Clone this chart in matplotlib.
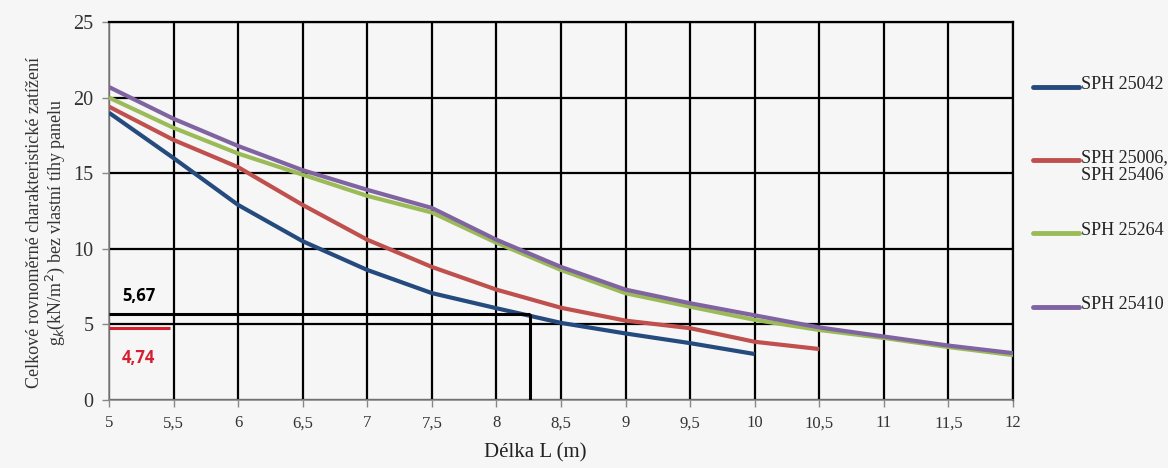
import matplotlib
matplotlib.use("Agg")
import matplotlib.pyplot as plt
from matplotlib.lines import Line2D

# Span length (m)
delka = [5, 5.5, 6, 6.5, 7, 7.5, 8, 8.5, 9, 9.5, 10, 10.5, 11, 11.5, 12]

# Load capacity g_k (kN/m2) per panel type
sph_25042 = [19.0, 16.0, 12.9, 10.5, 8.6, 7.07, 6.07, 5.1, 4.4, 3.76, 3.04]
sph_25006 = [19.4, 17.2, 15.4, 12.9, 10.6, 8.8, 7.3, 6.1, 5.25, 4.75, 3.85, 3.37]
sph_25264 = [20.0, 18.0, 16.3, 14.9, 13.5, 12.4, 10.4, 8.6, 7.06, 6.17, 5.3, 4.63, 4.1, 3.5, 2.97]
sph_25410 = [20.7, 18.6, 16.8, 15.2, 13.9, 12.7, 10.6, 8.8, 7.3, 6.4, 5.6, 4.8, 4.2, 3.6, 3.1]

series_labels = ["SPH 25042", "SPH 25006,\nSPH 25406", "SPH 25264", "SPH 25410"]
series_colors = ["#254a7e", "#c0504d", "#9bbb59", "#8064a2"]

# Reference values marked in the chart
hodnota_1 = 5.67
hodnota_2 = 4.74
delka_odecet = 8.26

x_ticks = [5, 5.5, 6, 6.5, 7, 7.5, 8, 8.5, 9, 9.5, 10, 10.5, 11, 11.5, 12]
x_tick_labels = ["5", "5,5", "6", "6,5", "7", "7,5", "8", "8,5", "9", "9,5",
                 "10", "10,5", "11", "11,5", "12"]
y_ticks = [0, 5, 10, 15, 20, 25]

bg = "#f6f6f6"
serif = "Liberation Serif"
W, H = 1168, 468

fig = plt.figure(figsize=(W / 100, H / 100), dpi=100, facecolor=bg)
ax = fig.add_axes([0.0933, 0.1453, 0.7740, 0.8077], facecolor=bg)

ax.set_xlim(5, 12)
ax.set_ylim(0, 25)
ax.set_xticks(x_ticks)
ax.set_xticklabels(x_tick_labels, fontfamily=serif, fontsize=12, color="#333333")
ax.set_yticks(y_ticks)
ax.set_yticklabels([str(v) for v in y_ticks], fontfamily=serif, fontsize=14.5, color="#333333")
ax.tick_params(axis="both", direction="out", length=5, width=1, color="#888888", pad=6)

ax.grid(True, color="black", linewidth=1.6, zorder=1)
for side in ["top", "right"]:
    ax.spines[side].set_visible(True)
    ax.spines[side].set_color("black")
    ax.spines[side].set_linewidth(1.6)
for side in ["left", "bottom"]:
    ax.spines[side].set_color("#888888")
    ax.spines[side].set_linewidth(1.2)
ax.set_axisbelow(True)

all_series = [sph_25042, sph_25006, sph_25264, sph_25410]
for vals, lab, col in zip(all_series, series_labels, series_colors):
    ax.plot(delka[:len(vals)], vals, color=col, linewidth=3.0,
            solid_capstyle="butt", solid_joinstyle="round", zorder=3, label=lab)

# Reading lines for the chosen value
ax.plot([5, delka_odecet], [hodnota_1, hodnota_1], color="black", linewidth=2.2, zorder=4,
        solid_capstyle="butt")
ax.plot([delka_odecet, delka_odecet], [0, hodnota_1], color="black", linewidth=2.2, zorder=4,
        solid_capstyle="butt")
ax.plot([5, 5.47], [hodnota_2, hodnota_2], color="#d4202f", linewidth=2.2, zorder=4,
        solid_capstyle="butt")

ax.text(5.1, hodnota_1 + 0.6, "5,67", fontfamily="Open Sans", fontweight="bold",
        fontsize=12, color="black", va="bottom", ha="left")
ax.text(5.1, hodnota_2 - 1.4, "4,74", fontfamily="Open Sans", fontweight="bold",
        fontsize=12, color="#d4202f", va="top", ha="left")

ax.set_xlabel("Délka L (m)", fontfamily=serif, fontsize=15, color="#222222")
ax.xaxis.set_label_coords((535 - 109) / (1013 - 109), -0.115)
ax.set_ylabel("Celkové rovnoměrné charakteristické zatížení\n"
              "g$_k$(kN/m$^2$) bez vlastní tíhy panelu",
              fontfamily=serif, fontsize=13, color="#333333",
              linespacing=1.05)
ax.yaxis.set_label_coords(-0.046, 0.47)

# Legend drawn in figure pixel coordinates
legend_rows = [87, 160, 233, 307]
for row, lab, col in zip(legend_rows, series_labels, series_colors):
    yf = 1 - row / H
    fig.add_artist(Line2D([1033 / W, 1079 / W], [yf, yf], color=col, linewidth=3.5,
                          solid_capstyle="round", transform=fig.transFigure))
    first_line_top = yf + 11 / H
    fig.text(1081 / W, first_line_top, lab, fontfamily=serif, fontsize=13,
             color="#222222", va="top", ha="left", linespacing=1.05)

fig.savefig("out.png", dpi=100, facecolor=bg)
